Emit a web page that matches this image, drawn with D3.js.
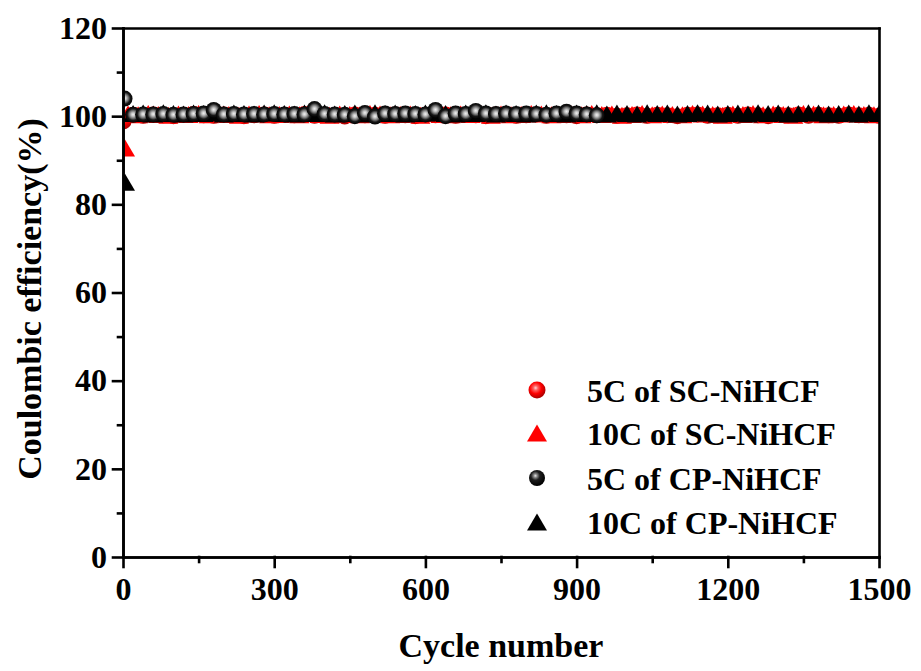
<!DOCTYPE html>
<html>
<head>
<meta charset="utf-8">
<script src="https://cdn.jsdelivr.net/npm/d3@7"></script>
<style>
  html, body { margin: 0; padding: 0; background: #fff; }
  svg { display: block; }
</style>
</head>
<body>
<svg id="chart" width="921" height="671"></svg>
<script>
// Sampled cycle grids (every 20 cycles, and the same grid shifted by 10)
const gridCycles = [20,40,60,80,100,120,140,160,180,200,220,240,260,280,300,
  320,340,360,380,400,420,440,460,480,500,520,540,560,580,600,
  620,640,660,680,700,720,740,760,780,800,820,840,860,880,900,
  920,940,960,980,1000,1020,1040,1060,1080,1100,1120,1140,1160,1180,1200,
  1220,1240,1260,1280,1300,1320,1340,1360,1380,1400,1420,1440,1460,1480,1500];
const offsetCycles = [10,30,50,70,90,110,130,150,170,190,210,230,250,270,290,
  310,330,350,370,390,410,430,450,470,490,510,530,550,570,590,
  610,630,650,670,690,710,730,750,770,790,810,830,850,870,890,
  910,930,950,970,990,1010,1030,1050,1070,1090,1110,1130,1150,1170,1190,
  1210,1230,1250,1270,1290,1310,1330,1350,1370,1390,1410,1430,1450,1470,1490];
const cpShortCycles = [20,40,60,80,100,120,140,160,180,200,220,240,260,280,300,
  320,340,360,380,400,420,440,460,480,500,520,540,560,580,600,
  620,640,660,680,700,720,740,760,780,800,820,840,860,880,900,920,940];

// 5C of SC-NiHCF (first cycle, then gridCycles)
const sc5First = [1, 98.8];
const sc5Values = [100.3,100.1,100.4,100.2,100.0,100.3,100.5,100.2,100.1,100.4,100.3,100.0,100.2,100.4,100.1,
  100.3,100.2,100.5,100.1,100.3,100.2,99.9,100.4,100.2,100.3,100.1,100.4,100.2,100.0,100.3,
  100.2,100.4,100.1,100.3,100.2,100.0,100.4,100.3,100.1,100.2,100.4,100.1,100.3,100.2,100.0,
  100.4,100.2,100.3,100.1,100.2,100.4,100.1,100.3,100.2,100.0,100.3,100.4,100.1,100.2,100.3,
  100.1,100.4,100.2,100.0,100.3,100.2,100.4,100.1,100.3,100.2,100.1,100.4,100.2,100.3,100.1];

// 10C of SC-NiHCF (first cycle, then offsetCycles)
const sc10First = [4, 92.8];
const sc10Values = [100.5,100.3,100.6,100.4,100.2,100.5,100.4,100.6,100.3,100.5,100.4,100.2,100.5,100.6,100.3,
  100.4,100.5,100.3,100.6,100.4,100.2,100.5,100.4,100.3,100.6,100.5,100.3,100.4,100.5,100.2,
  100.6,100.4,100.3,100.5,100.4,100.6,100.2,100.5,100.3,100.4,100.6,100.5,100.3,100.4,100.5,
  100.3,100.6,100.4,100.5,100.2,100.4,100.6,100.3,100.5,100.4,100.3,100.6,100.5,100.4,100.2,
  100.5,100.4,100.6,100.3,100.5,100.4,100.2,100.6,100.5,100.3,100.4,100.5,100.6,100.4,100.3];

// 5C of CP-NiHCF (first cycle, then cpShortCycles)
const cp5First = [3, 104.0];
const cp5Values = [100.3,100.4,100.4,100.5,100.3,100.4,100.5,100.6,101.4,100.4,100.5,100.4,100.5,100.4,100.5,
  100.4,100.5,100.4,101.6,100.5,100.4,100.3,100.0,100.7,99.9,100.6,100.5,100.6,100.5,100.4,
  101.4,100.0,100.6,100.5,101.2,100.6,100.5,100.6,100.5,100.6,100.5,100.3,100.6,101.0,100.6,100.4,100.2];

// 10C of CP-NiHCF (first cycle, then gridCycles)
const cp10First = [4, 85.0];
const cp10Values = [100.6,100.7,100.5,100.8,100.6,100.5,100.7,100.6,100.8,100.5,100.7,100.6,100.5,100.7,100.8,
  100.6,100.5,100.7,100.6,100.8,100.5,100.6,100.7,100.5,100.8,100.6,100.7,100.5,100.6,100.7,
  100.8,100.6,100.5,100.7,100.6,100.8,100.5,100.7,100.6,100.5,100.7,100.8,100.6,100.5,100.7,
  100.6,100.8,100.5,100.7,100.6,100.5,100.8,100.6,100.7,100.5,100.6,100.8,100.7,100.5,100.6,
  100.7,100.5,100.8,100.6,100.7,100.5,100.6,100.8,100.7,100.5,100.6,100.7,100.5,100.8,100.6];

const xTicks = [0, 300, 600, 900, 1200, 1500];
const xMinorTicks = [150, 450, 750, 1050, 1350];
const yTicks = [0, 20, 40, 60, 80, 100, 120];
const yMinorTicks = [10, 30, 50, 70, 90, 110];
const legendLabels = ["5C of SC-NiHCF", "10C of SC-NiHCF", "5C of CP-NiHCF", "10C of CP-NiHCF"];

const FONT = "Liberation Serif";

function pairs(first, cycles, values) {
  const out = [first];
  const n = Math.min(cycles.length, values.length);
  for (let i = 0; i < n; i++) out.push([cycles[i], values[i]]);
  return out;
}

const svg = d3.select("#chart");
const plot = { left: 123, right: 879, top: 28, bottom: 557 };

const x = d3.scaleLinear().domain([0, 1500]).range([plot.left, plot.right]);
const y = d3.scaleLinear().domain([0, 120]).range([plot.bottom, plot.top]);

// Sphere shading
const defs = svg.append("defs");
function radial(id, cx, cy, r, stops) {
  const g = defs.append("radialGradient").attr("id", id)
    .attr("cx", cx).attr("cy", cy).attr("r", r).attr("fx", cx).attr("fy", cy);
  stops.forEach(s => g.append("stop").attr("offset", s[0]).attr("stop-color", s[1]));
}
radial("redBall", "42%", "38%", "62%", [["0%", "#ffd6d6"], ["22%", "#ff6060"], ["55%", "#ff0000"], ["100%", "#a80000"]]);
radial("greyBall", "50%", "48%", "52%", [["0%", "#f2f2f2"], ["22%", "#c4c4c4"], ["48%", "#6e6e6e"], ["70%", "#161616"], ["100%", "#000000"]]);
radial("blackBall", "40%", "36%", "62%", [["0%", "#e8e8e8"], ["18%", "#8a8a8a"], ["45%", "#1e1e1e"], ["100%", "#000000"]]);

defs.append("clipPath").attr("id", "plotClip")
  .append("rect")
  .attr("x", plot.left).attr("y", plot.top)
  .attr("width", plot.right - plot.left).attr("height", plot.bottom - plot.top);

const TRI_W = 20, TRI_H = 17, BALL_R = 8;
function triPath(w, h) {
  return `M0,${-h / 2}L${w / 2},${h / 2}L${-w / 2},${h / 2}Z`;
}

const marks = svg.append("g").attr("clip-path", "url(#plotClip)");

// 5C of SC-NiHCF
marks.append("g").selectAll("circle")
  .data(pairs(sc5First, gridCycles, sc5Values))
  .join("circle")
  .attr("cx", d => x(d[0])).attr("cy", d => y(d[1])).attr("r", BALL_R)
  .attr("fill", "url(#redBall)");

// 10C of SC-NiHCF
marks.append("g").selectAll("path")
  .data(pairs(sc10First, offsetCycles, sc10Values))
  .join("path")
  .attr("d", triPath(TRI_W, TRI_H))
  .attr("transform", d => `translate(${x(d[0])},${y(d[1])})`)
  .attr("fill", "#ff0000");

// 10C of CP-NiHCF
marks.append("g").selectAll("path")
  .data(pairs(cp10First, gridCycles, cp10Values))
  .join("path")
  .attr("d", triPath(TRI_W, TRI_H))
  .attr("transform", d => `translate(${x(d[0])},${y(d[1])})`)
  .attr("fill", "#000");

// 5C of CP-NiHCF
marks.append("g").selectAll("circle")
  .data(pairs(cp5First, cpShortCycles, cp5Values))
  .join("circle")
  .attr("cx", d => x(d[0])).attr("cy", d => y(d[1])).attr("r", BALL_R)
  .attr("fill", "url(#greyBall)");

// Axes
const axisW = 2.6;
const fmt = d3.format("d");

const xAxis = svg.append("g").attr("transform", `translate(0,${plot.bottom})`)
  .call(d3.axisBottom(x).tickValues(xTicks).tickFormat(fmt).tickSize(10).tickSizeOuter(0).tickPadding(10));
const xMinor = svg.append("g").attr("transform", `translate(0,${plot.bottom})`)
  .call(d3.axisBottom(x).tickValues(xMinorTicks).tickSize(5).tickSizeOuter(0).tickFormat(""));
const yAxis = svg.append("g").attr("transform", `translate(${plot.left},0)`)
  .call(d3.axisLeft(y).tickValues(yTicks).tickFormat(fmt).tickSize(10).tickSizeOuter(0).tickPadding(6));
const yMinor = svg.append("g").attr("transform", `translate(${plot.left},0)`)
  .call(d3.axisLeft(y).tickValues(yMinorTicks).tickSize(5).tickSizeOuter(0).tickFormat(""));
const topAxis = svg.append("g").attr("transform", `translate(0,${plot.top})`)
  .call(d3.axisTop(x).tickValues([]).tickSizeOuter(0));
const rightAxis = svg.append("g").attr("transform", `translate(${plot.right},0)`)
  .call(d3.axisRight(y).tickValues([]).tickSizeOuter(0));

[xAxis, xMinor, yAxis, yMinor, topAxis, rightAxis].forEach(g => {
  g.attr("font-family", FONT).attr("font-size", 32).attr("font-weight", "bold");
  g.selectAll("path, line").attr("stroke", "#000").attr("stroke-width", axisW).attr("stroke-linecap", "square");
  g.selectAll("text").attr("fill", "#000");
});

// Axis titles
svg.append("text")
  .attr("x", (plot.left + plot.right) / 2).attr("y", 657)
  .attr("text-anchor", "middle")
  .attr("font-family", FONT).attr("font-weight", "bold").attr("font-size", 34)
  .text("Cycle number");
svg.append("text")
  .attr("transform", `translate(41,299) rotate(-90)`)
  .attr("text-anchor", "middle")
  .attr("font-family", FONT).attr("font-weight", "bold").attr("font-size", 34)
  .text("Coulombic efficiency(%)");

// Legend
const legendRows = [390, 433, 478, 522];
const legend = svg.append("g");
legendLabels.forEach((label, i) => {
  const cy = legendRows[i];
  const mx = 537;
  if (i === 0) {
    legend.append("circle").attr("cx", mx).attr("cy", cy).attr("r", BALL_R + 0.5).attr("fill", "url(#redBall)");
  } else if (i === 1) {
    legend.append("path").attr("d", triPath(TRI_W, TRI_H)).attr("transform", `translate(${mx},${cy})`).attr("fill", "#ff0000");
  } else if (i === 2) {
    legend.append("circle").attr("cx", mx).attr("cy", cy).attr("r", BALL_R).attr("fill", "url(#blackBall)");
  } else {
    legend.append("path").attr("d", triPath(TRI_W, TRI_H)).attr("transform", `translate(${mx},${cy})`).attr("fill", "#000");
  }
  legend.append("text").attr("x", 587).attr("y", cy + 12)
    .attr("font-family", FONT).attr("font-weight", "bold").attr("font-size", 32)
    .text(label);
});
</script>
</body>
</html>
